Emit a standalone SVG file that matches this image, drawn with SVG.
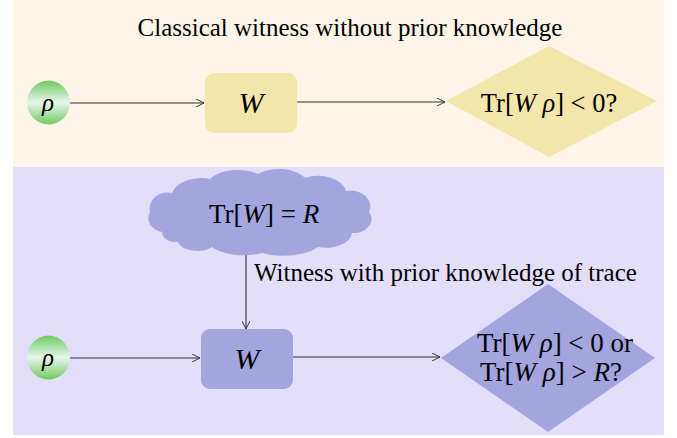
<svg xmlns="http://www.w3.org/2000/svg" width="677" height="438" viewBox="0 0 677 438">
<defs>
<linearGradient id="g" x1="0" y1="0" x2="0" y2="1">
<stop offset="0" stop-color="#6fca5e"/>
<stop offset="0.5" stop-color="#e6f5ee"/>
<stop offset="1" stop-color="#6fca5e"/>
</linearGradient>
<marker id="a" viewBox="0 0 10 10" refX="10" refY="5" markerWidth="8" markerHeight="8" markerUnits="userSpaceOnUse" orient="auto">
<path d="M0,0 L10,5 L0,10" fill="none" stroke="#333" stroke-width="1.2"/>
</marker>
<style>
text{font-family:"Liberation Serif","Times New Roman",serif;fill:#000}
.i{font-style:italic}
.c{fill:url(#g)}
.y{fill:#f4e6ab}
.p{fill:#a4a4df}
.ln{stroke:#333;stroke-width:1.1;fill:none;marker-end:url(#a)}
</style>
</defs>
<rect x="13" y="0" width="651" height="167" fill="#fdf5e7"/>
<rect x="13" y="167" width="651" height="268" fill="#e3defa"/>
<text x="350" y="36" font-size="25" text-anchor="middle">Classical witness without prior knowledge</text>
<g id="connectors">
<line class="ln" x1="70" y1="103" x2="204" y2="103"/>
<line class="ln" x1="297" y1="102" x2="445" y2="102"/>
<line class="ln" x1="246" y1="253" x2="246" y2="329"/>
<line class="ln" x1="70" y1="358" x2="200" y2="358"/>
<line class="ln" x1="293" y1="357" x2="440" y2="357"/>
</g>
<text x="254" y="281" font-size="25">Witness with prior knowledge of trace</text>
<g id="rho1">
<ellipse class="c" cx="48.5" cy="102.5" rx="21.5" ry="22"/>
<text class="i" x="48" y="111" font-size="25" text-anchor="middle">ρ</text>
</g>
<g id="W1">
<rect class="y" x="205" y="73" width="92" height="60" rx="9"/>
<text class="i" x="251" y="113" font-size="30" text-anchor="middle">W</text>
</g>
<g id="test1">
<polygon class="y" points="446,101 549,46 657,101 549,157"/>
<text x="549" y="112" font-size="26.5" text-anchor="middle">Tr[<tspan class="i">W ρ</tspan>] &lt; 0?</text>
</g>
<g id="trace">
<path class="p" d="M162,232 A16,14 0 0 1 150,212 A18,16 0 0 1 172,193 A30,20 0 0 1 210,179 A32,18 0 0 1 258,174 A30,18 0 0 1 305,178 A28,18 0 0 1 346,191 A20,16 0 0 1 369,212 A18,14 0 0 1 352,233 A26,16 0 0 1 318,247 A40,18 0 0 1 262,253 A36,16 0 0 1 212,247 A20,12 0 0 1 178,242 A14,10 0 0 1 162,232 Z"/>
<text x="264" y="223" font-size="27" text-anchor="middle">Tr[<tspan class="i">W</tspan>] = <tspan class="i">R</tspan></text>
</g>
<g id="rho2">
<ellipse class="c" cx="48.5" cy="357.5" rx="21.5" ry="22"/>
<text class="i" x="48" y="366" font-size="25" text-anchor="middle">ρ</text>
</g>
<g id="W2">
<rect class="p" x="201" y="329" width="92" height="60" rx="9"/>
<text class="i" x="247" y="369" font-size="30" text-anchor="middle">W</text>
</g>
<g id="test2">
<polygon class="p" points="441,358 548,284 655,358 548,432"/>
<text x="555" y="352" font-size="27" text-anchor="middle">Tr[<tspan class="i">W ρ</tspan>] &lt; 0 or</text>
<text x="551" y="381" font-size="27" text-anchor="middle">Tr[<tspan class="i">W ρ</tspan>] &gt; <tspan class="i">R</tspan>?</text>
</g>
</svg>
